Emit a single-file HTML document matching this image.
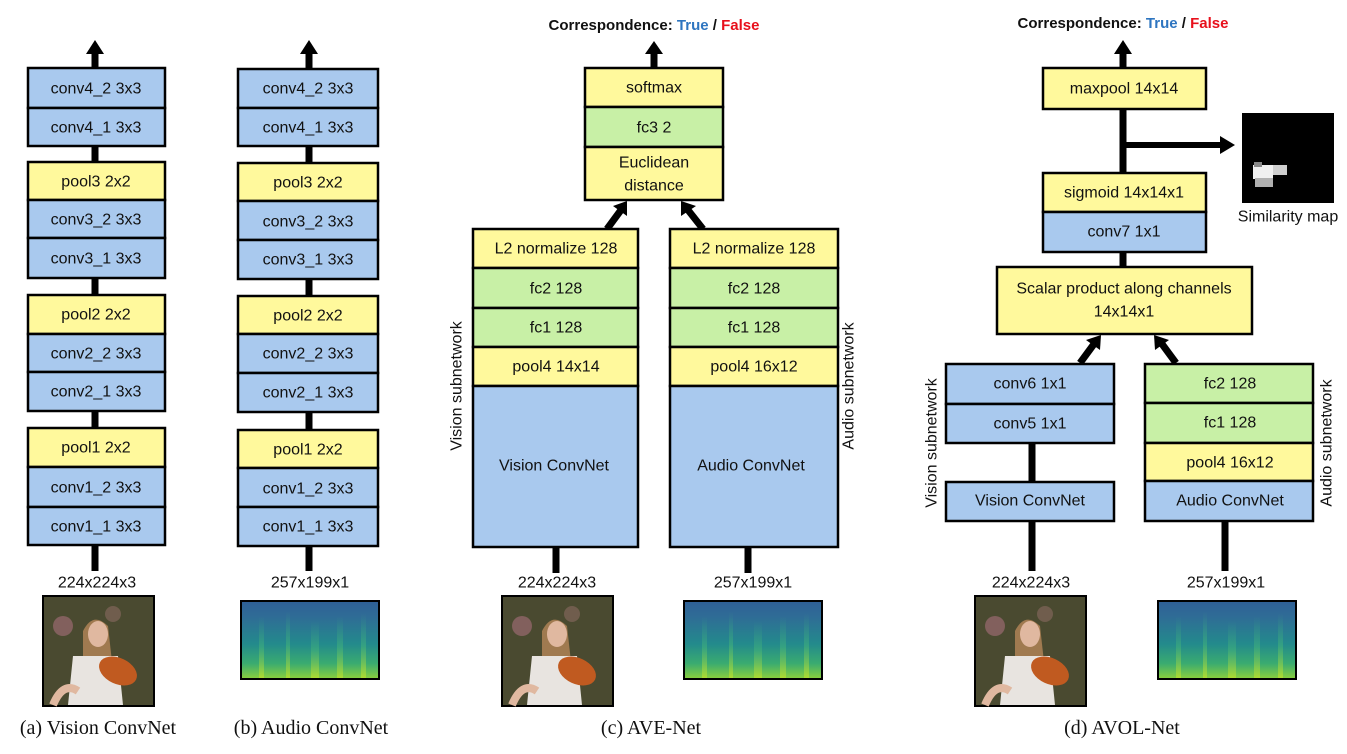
<!DOCTYPE html>
<html><head><meta charset="utf-8"><style>
html,body{margin:0;padding:0;background:#fff;}
svg{display:block;}
text{font-family:"Liberation Sans",sans-serif;font-size:16px;fill:#111;text-anchor:middle;dominant-baseline:central;}
.cap{font-family:"Liberation Serif",serif;font-size:20px;}
.b{fill:#a9c9ee;stroke:#000;stroke-width:2.5;}
.y{fill:#fff99c;stroke:#000;stroke-width:2.5;}
.g{fill:#c8f0a6;stroke:#000;stroke-width:2.5;}
.ln{stroke:#000;stroke-width:7;}
.t{font-weight:bold;font-size:15px;}
</style></head><body>
<svg width="1347" height="754" viewBox="0 0 1347 754" xmlns="http://www.w3.org/2000/svg">
<defs>
<linearGradient id="spg" x1="0" y1="0" x2="0" y2="1">
<stop offset="0" stop-color="#2f5f96"/><stop offset="0.2" stop-color="#2f6c96"/>
<stop offset="0.55" stop-color="#238a8c"/><stop offset="0.8" stop-color="#3aab70"/><stop offset="1" stop-color="#8bd03c"/>
</linearGradient>
<linearGradient id="streak" x1="0" y1="0" x2="0" y2="1">
<stop offset="0" stop-color="#3a9c8a" stop-opacity="0"/><stop offset="0.5" stop-color="#3fae7c" stop-opacity="0.6"/><stop offset="1" stop-color="#b0dc30" stop-opacity="0.9"/>
</linearGradient>
<g id="spec">
<rect x="0" y="0" width="138" height="78" fill="url(#spg)" stroke="#000" stroke-width="2"/>
<rect x="18" y="15" width="5" height="62" fill="url(#streak)"/>
<rect x="45" y="10" width="4" height="67" fill="url(#streak)"/>
<rect x="70" y="20" width="8" height="57" fill="url(#streak)"/>
<rect x="96" y="15" width="6" height="62" fill="url(#streak)"/>
<rect x="120" y="12" width="5" height="65" fill="url(#streak)"/>
</g>
<g id="photo">
<rect x="0" y="0" width="111" height="110" fill="#4a4a30" stroke="#000" stroke-width="2"/>
<circle cx="20" cy="30" r="10" fill="#9a6a70" opacity="0.7"/>
<circle cx="70" cy="18" r="8" fill="#8a6a60" opacity="0.6"/>
<path d="M40 35 Q50 15 65 30 L70 75 L40 80 Z" fill="#a07a50"/>
<ellipse cx="55" cy="38" rx="10" ry="13" fill="#e0b8a0"/>
<path d="M30 60 L75 60 L80 109 L25 109 Z" fill="#e8e4e0"/>
<ellipse cx="75" cy="75" rx="20" ry="13" fill="#c05a20" transform="rotate(25 75 75)"/>
<path d="M10 109 Q20 85 35 95" stroke="#e0b8a0" stroke-width="8" fill="none"/>
</g>
</defs>

<!-- (a) -->
<line class="ln" x1="95" y1="52" x2="95" y2="68"/><polygon points="86,54 95,40 104,54" fill="#000"/>
<rect class="b" x="28" y="68" width="137" height="40"/><text x="96" y="89">conv4_2  3x3</text>
<rect class="b" x="28" y="108" width="137" height="38"/><text x="96" y="128">conv4_1  3x3</text>
<line class="ln" x1="95" y1="146" x2="95" y2="162"/>
<rect class="y" x="28" y="162" width="137" height="38"/><text x="96" y="182">pool3  2x2</text>
<rect class="b" x="28" y="200" width="137" height="38"/><text x="96" y="220">conv3_2  3x3</text>
<rect class="b" x="28" y="238" width="137" height="40"/><text x="96" y="259">conv3_1  3x3</text>
<line class="ln" x1="95" y1="278" x2="95" y2="295"/>
<rect class="y" x="28" y="295" width="137" height="39"/><text x="96" y="315">pool2  2x2</text>
<rect class="b" x="28" y="334" width="137" height="38"/><text x="96" y="354">conv2_2  3x3</text>
<rect class="b" x="28" y="372" width="137" height="39"/><text x="96" y="392">conv2_1  3x3</text>
<line class="ln" x1="95" y1="411" x2="95" y2="428"/>
<rect class="y" x="28" y="428" width="137" height="39"/><text x="96" y="448">pool1  2x2</text>
<rect class="b" x="28" y="467" width="137" height="40"/><text x="96" y="488">conv1_2  3x3</text>
<rect class="b" x="28" y="507" width="137" height="38"/><text x="96" y="527">conv1_1  3x3</text>
<line class="ln" x1="95" y1="545" x2="95" y2="571"/>
<text x="97" y="583">224x224x3</text>
<use href="#photo" x="43" y="596"/>
<text class="cap" x="98" y="728">(a) Vision ConvNet</text>

<!-- (b) -->
<line class="ln" x1="309" y1="52" x2="309" y2="69"/><polygon points="300,54 309,40 318,54" fill="#000"/>
<rect class="b" x="238" y="69" width="140" height="39"/><text x="308" y="89">conv4_2  3x3</text>
<rect class="b" x="238" y="108" width="140" height="38"/><text x="308" y="128">conv4_1  3x3</text>
<line class="ln" x1="309" y1="146" x2="309" y2="163"/>
<rect class="y" x="238" y="163" width="140" height="38"/><text x="308" y="183">pool3  2x2</text>
<rect class="b" x="238" y="201" width="140" height="39"/><text x="308" y="222">conv3_2  3x3</text>
<rect class="b" x="238" y="240" width="140" height="39"/><text x="308" y="260">conv3_1  3x3</text>
<line class="ln" x1="309" y1="279" x2="309" y2="296"/>
<rect class="y" x="238" y="296" width="140" height="38"/><text x="308" y="316">pool2  2x2</text>
<rect class="b" x="238" y="334" width="140" height="39"/><text x="308" y="354">conv2_2  3x3</text>
<rect class="b" x="238" y="373" width="140" height="39"/><text x="308" y="393">conv2_1  3x3</text>
<line class="ln" x1="309" y1="412" x2="309" y2="430"/>
<rect class="y" x="238" y="430" width="140" height="38"/><text x="308" y="450">pool1  2x2</text>
<rect class="b" x="238" y="468" width="140" height="39"/><text x="308" y="489">conv1_2  3x3</text>
<rect class="b" x="238" y="507" width="140" height="39"/><text x="308" y="527">conv1_1  3x3</text>
<line class="ln" x1="309" y1="546" x2="309" y2="571"/>
<text x="310" y="583">257x199x1</text>
<use href="#spec" x="241" y="601"/>
<text class="cap" x="311" y="728">(b) Audio ConvNet</text>

<!-- (c) -->
<text class="t" x="654" y="25"><tspan>Correspondence:  </tspan><tspan style="fill:#2e75c0">True</tspan><tspan> / </tspan><tspan style="fill:#e8101c">False</tspan></text>
<line class="ln" x1="654" y1="52" x2="654" y2="68"/><polygon points="645,54 654,41 663,54" fill="#000"/>
<rect class="y" x="585" y="68" width="138" height="39"/><text x="654" y="88">softmax</text>
<rect class="g" x="585" y="107" width="138" height="40"/><text x="654" y="128">fc3 2</text>
<rect class="y" x="585" y="147" width="138" height="53"/><text x="654" y="163">Euclidean</text><text x="654" y="186">distance</text>
<line class="ln" x1="607" y1="229" x2="621" y2="210"/><polygon points="613,206 627,201 627,216" fill="#000"/>
<line class="ln" x1="703" y1="229" x2="688" y2="210"/><polygon points="681,201 696,206 681,216" fill="#000"/>
<rect class="y" x="473" y="229" width="165" height="39"/><text x="556" y="249">L2 normalize 128</text>
<rect class="g" x="473" y="268" width="165" height="40"/><text x="556" y="289">fc2 128</text>
<rect class="g" x="473" y="308" width="165" height="39"/><text x="556" y="328">fc1 128</text>
<rect class="y" x="473" y="347" width="165" height="39"/><text x="556" y="367">pool4  14x14</text>
<rect class="b" x="473" y="386" width="165" height="161"/><text x="554" y="466">Vision ConvNet</text>
<rect class="y" x="670" y="229" width="168" height="39"/><text x="754" y="249">L2 normalize 128</text>
<rect class="g" x="670" y="268" width="168" height="40"/><text x="754" y="289">fc2 128</text>
<rect class="g" x="670" y="308" width="168" height="39"/><text x="754" y="328">fc1 128</text>
<rect class="y" x="670" y="347" width="168" height="39"/><text x="754" y="367">pool4  16x12</text>
<rect class="b" x="670" y="386" width="168" height="161"/><text x="751" y="466">Audio ConvNet</text>
<text x="457" y="386" transform="rotate(-90 457 386)">Vision subnetwork</text>
<text x="849" y="386" transform="rotate(-90 849 386)">Audio subnetwork</text>
<line class="ln" x1="556" y1="547" x2="556" y2="573"/>
<line class="ln" x1="748" y1="547" x2="748" y2="573"/>
<text x="557" y="583">224x224x3</text>
<text x="753" y="583">257x199x1</text>
<use href="#photo" x="502" y="596"/>
<use href="#spec" x="684" y="601"/>
<text class="cap" x="651" y="728">(c) AVE-Net</text>

<!-- (d) -->
<text class="t" x="1123" y="23"><tspan>Correspondence:  </tspan><tspan style="fill:#2e75c0">True</tspan><tspan> / </tspan><tspan style="fill:#e8101c">False</tspan></text>
<line class="ln" x1="1123" y1="52" x2="1123" y2="68"/><polygon points="1114,54 1123,40 1132,54" fill="#000"/>
<rect class="y" x="1043" y="68" width="163" height="41"/><text x="1124" y="89">maxpool 14x14</text>
<line class="ln" x1="1123" y1="109" x2="1123" y2="173"/>
<line x1="1123" y1="145" x2="1222" y2="145" stroke="#000" stroke-width="6"/><polygon points="1220,136 1235,145 1220,154" fill="#000"/>
<rect x="1242" y="113" width="92" height="90" fill="#000"/>
<rect x="1253" y="165" width="20" height="14" fill="#f0f0f0"/><rect x="1273" y="165" width="14" height="10" fill="#cfcfcf"/><rect x="1255" y="178" width="18" height="9" fill="#b0b0b0"/><rect x="1254" y="162" width="8" height="5" fill="#888"/>
<text x="1288" y="217">Similarity map</text>
<rect class="y" x="1043" y="173" width="163" height="39"/><text x="1124" y="193">sigmoid 14x14x1</text>
<rect class="b" x="1043" y="212" width="163" height="40"/><text x="1124" y="232">conv7 1x1</text>
<line class="ln" x1="1123" y1="252" x2="1123" y2="267"/>
<rect class="y" x="997" y="267" width="255" height="67"/><text x="1124" y="289">Scalar product along channels</text><text x="1124" y="312">14x14x1</text>
<line class="ln" x1="1080" y1="363" x2="1094" y2="344"/><polygon points="1086,340 1101,335 1100,350" fill="#000"/>
<line class="ln" x1="1176" y1="363" x2="1162" y2="344"/><polygon points="1154,335 1169,340 1155,350" fill="#000"/>
<rect class="b" x="946" y="364" width="168" height="40"/><text x="1030" y="384">conv6  1x1</text>
<rect class="b" x="946" y="404" width="168" height="39"/><text x="1030" y="424">conv5  1x1</text>
<line class="ln" x1="1032" y1="443" x2="1032" y2="482"/>
<rect class="b" x="946" y="482" width="168" height="39"/><text x="1030" y="501">Vision ConvNet</text>
<rect class="g" x="1145" y="364" width="168" height="39"/><text x="1230" y="384">fc2 128</text>
<rect class="g" x="1145" y="403" width="168" height="40"/><text x="1230" y="423">fc1 128</text>
<rect class="y" x="1145" y="443" width="168" height="38"/><text x="1230" y="463">pool4  16x12</text>
<rect class="b" x="1145" y="481" width="168" height="40"/><text x="1230" y="501">Audio ConvNet</text>
<text x="932" y="443" transform="rotate(-90 932 443)">Vision subnetwork</text>
<text x="1327" y="443" transform="rotate(-90 1327 443)">Audio subnetwork</text>
<line class="ln" x1="1032" y1="521" x2="1032" y2="571"/>
<line class="ln" x1="1225" y1="521" x2="1225" y2="571"/>
<text x="1031" y="583">224x224x3</text>
<text x="1226" y="583">257x199x1</text>
<use href="#photo" x="975" y="596"/>
<use href="#spec" x="1158" y="601"/>
<text class="cap" x="1122" y="728">(d) AVOL-Net</text>
</svg>
</body></html>
